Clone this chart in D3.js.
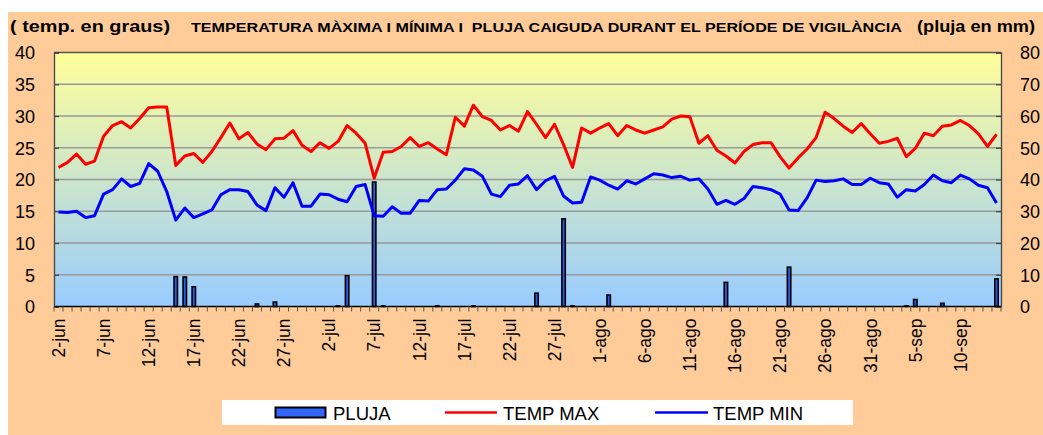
<!DOCTYPE html>
<html><head><meta charset="utf-8">
<script src="https://cdn.jsdelivr.net/npm/d3@7"></script>
<style>
html,body{margin:0;padding:0;background:#fff;}
svg{display:block;font-family:"Liberation Sans",Arial,sans-serif;}
</style></head>
<body>
<svg id="chart" width="1043" height="435"></svg>
<script>
const categories = [
"2-jun","3-jun","4-jun","5-jun","6-jun","7-jun","8-jun","9-jun","10-jun","11-jun","12-jun","13-jun","14-jun","15-jun","16-jun","17-jun","18-jun","19-jun","20-jun","21-jun","22-jun","23-jun","24-jun","25-jun","26-jun","27-jun","28-jun","29-jun","30-jun",
"1-jul","2-jul","3-jul","4-jul","5-jul","6-jul","7-jul","8-jul","9-jul","10-jul","11-jul","12-jul","13-jul","14-jul","15-jul","16-jul","17-jul","18-jul","19-jul","20-jul","21-jul","22-jul","23-jul","24-jul","25-jul","26-jul","27-jul","28-jul","29-jul","30-jul","31-jul",
"1-ago","2-ago","3-ago","4-ago","5-ago","6-ago","7-ago","8-ago","9-ago","10-ago","11-ago","12-ago","13-ago","14-ago","15-ago","16-ago","17-ago","18-ago","19-ago","20-ago","21-ago","22-ago","23-ago","24-ago","25-ago","26-ago","27-ago","28-ago","29-ago","30-ago","31-ago",
"1-sep","2-sep","3-sep","4-sep","5-sep","6-sep","7-sep","8-sep","9-sep","10-sep","11-sep","12-sep","13-sep","14-sep"];

const tickLabels = ["2-jun","7-jun","12-jun","17-jun","22-jun","27-jun","2-jul","7-jul","12-jul","17-jul","22-jul","27-jul","1-ago","6-ago","11-ago","16-ago","21-ago","26-ago","31-ago","5-sep","10-sep"];

const tempMax = [
21.9,22.7,24.0,22.4,22.9,26.8,28.5,29.1,28.1,29.6,31.3,31.4,31.4,22.2,23.7,24.1,22.7,24.4,
26.6,28.9,26.4,27.4,25.6,24.7,26.4,26.5,27.7,25.4,24.4,25.8,24.9,26.0,28.5,27.3,25.7,
20.2,24.3,24.4,25.2,26.6,25.2,25.8,24.8,23.9,29.8,28.4,31.7,29.9,29.3,27.8,28.5,27.6,
30.7,28.7,26.6,28.7,25.5,21.9,28.1,27.3,28.1,28.8,26.9,28.5,27.8,27.3,27.8,28.3,29.5,
30.0,29.9,25.7,26.9,24.6,23.7,22.6,24.4,25.5,25.8,25.8,23.6,21.8,23.4,24.8,26.6,30.6,29.6,
28.4,27.4,28.8,27.2,25.7,26.0,26.5,23.6,24.9,27.3,26.9,28.4,28.6,29.3,28.5,27.2,25.2,27.1];

const tempMin = [
14.9,14.8,15.0,14.0,14.3,17.7,18.4,20.1,18.9,19.4,22.5,21.3,18.1,13.6,15.5,14.0,14.6,15.2,
17.6,18.4,18.4,18.1,16.0,15.1,18.7,17.2,19.5,15.8,15.8,17.7,17.6,16.9,16.5,18.9,19.2,
14.3,14.2,15.7,14.7,14.7,16.7,16.6,18.4,18.5,19.9,21.7,21.5,20.5,17.7,17.3,19.1,19.3,
20.6,18.4,19.8,20.5,17.4,16.3,16.4,20.4,19.9,19.1,18.5,19.8,19.3,20.1,20.9,20.7,20.3,
20.5,19.9,20.1,18.5,16.1,16.7,16.1,17.0,18.9,18.7,18.4,17.7,15.2,15.1,17.1,19.9,19.7,19.8,
20.1,19.2,19.2,20.2,19.5,19.3,17.2,18.4,18.2,19.2,20.7,19.8,19.5,20.7,20.1,19.1,18.7,16.3];

const pluja = [
0,0,0,0,0,0,0,0,0,0,0,0,0,9.4,9.3,6.2,0,0,
0,0,0,0,0.8,0,1.4,0,0,0,0,0,0,0.2,9.7,0,0,
39.2,0.2,0,0,0,0,0,0.2,0,0,0,0.2,0,0,0,0,0,
0,4.2,0,0,27.6,0.2,0,0,0,3.6,0,0,0,0,0,0,0,
0,0,0,0,0,7.6,0,0,0,0,0,0,12.4,0,0,0,0,0,
0,0,0,0,0,0,0,0.2,2.2,0,0,1.0,0,0,0,0,0,8.7];

const leftTicks = [0,5,10,15,20,25,30,35,40];
const rightTicks = [0,10,20,30,40,50,60,70,80];

const svg = d3.select("#chart");
const L = 54, R = 1001, T = 52.5, B = 306.5;

// background
svg.append("rect").attr("x",8).attr("y",12).attr("width",1035).attr("height",423).attr("fill","#FFCC99");

const defs = svg.append("defs");
const grad = defs.append("linearGradient").attr("id","bg").attr("x1",0).attr("y1",0).attr("x2",0).attr("y2",1);
grad.append("stop").attr("offset","0%").attr("stop-color","#FFFF99");
grad.append("stop").attr("offset","100%").attr("stop-color","#99CCFF");
svg.append("rect").attr("x",L).attr("y",T).attr("width",R-L).attr("height",B-T).attr("fill","url(#bg)");

const x = d3.scaleBand().domain(categories).range([L,R]).paddingInner(0).paddingOuter(0);
const xb = d3.scaleBand().domain(categories).range([L,R]).paddingInner(0.62).paddingOuter(0.31);
const yL = d3.scaleLinear().domain([0,40]).range([B,T]);
const yR = d3.scaleLinear().domain([0,80]).range([B,T]);

// grid
svg.append("g").selectAll("line").data(leftTicks.filter(v=>v>0 && v<40)).join("line")
  .attr("x1",L).attr("x2",R).attr("y1",d=>yL(d)).attr("y2",d=>yL(d))
  .attr("stroke","#999").attr("stroke-width",1.3);

// bars
svg.append("g").selectAll("rect").data(categories.map((c,i)=>({c,v:pluja[i]})).filter(d=>d.v>0)).join("rect")
  .attr("x",d=>xb(d.c)).attr("width",xb.bandwidth())
  .attr("y",d=>yR(d.v)).attr("height",d=>B-yR(d.v))
  .attr("fill","#2D5BE3").attr("stroke","#000").attr("stroke-width",1.6);

// lines
const line = arr => d3.line().x((d,i)=>x(categories[i])+x.bandwidth()/2).y(d=>yL(d))(arr);
svg.append("path").attr("d",line(tempMax)).attr("fill","none").attr("stroke","#FF0000").attr("stroke-width",3).attr("stroke-linejoin","round");
svg.append("path").attr("d",line(tempMin)).attr("fill","none").attr("stroke","#0000FF").attr("stroke-width",3).attr("stroke-linejoin","round");

// frame
svg.append("line").attr("x1",L).attr("x2",R).attr("y1",T).attr("y2",T).attr("stroke","#555").attr("stroke-width",1.3);

// axes
const axL = svg.append("g").attr("transform",`translate(${L},0)`)
  .call(d3.axisLeft(yL).tickValues(leftTicks).tickSize(-5).tickPadding(19));
const axR = svg.append("g").attr("transform",`translate(${R},0)`)
  .call(d3.axisRight(yR).tickValues(rightTicks).tickSize(-5).tickPadding(19));
[axL,axR].forEach(a=>{
  a.select(".domain").attr("stroke","#444").attr("stroke-width",1.3);
  a.selectAll(".tick line").attr("stroke","#444").attr("stroke-width",1.3);
  a.selectAll("text").attr("font-size",18).attr("fill","#000").attr("font-family","Liberation Sans, Arial, sans-serif").attr("dy","0.36em");
});

// x axis
const gx = svg.append("g").attr("transform",`translate(0,${B})`);
gx.append("line").attr("x1",L).attr("x2",R).attr("stroke","#000").attr("stroke-width",1.5);
gx.selectAll("line.t").data(categories.concat([null])).join("line").attr("class","t")
  .attr("x1",(d,i)=>L+i*x.bandwidth()).attr("x2",(d,i)=>L+i*x.bandwidth())
  .attr("y1",0).attr("y2",5).attr("stroke","#555").attr("stroke-width",1);
const axB = gx.call(d3.axisBottom(x).tickValues(tickLabels).tickSize(0).tickPadding(0));
axB.select(".domain").remove();
axB.selectAll(".tick text")
  .attr("font-size",17.5).attr("fill","#000").attr("font-family","Liberation Sans, Arial, sans-serif")
  .attr("text-anchor","end").attr("transform","translate(0,12) rotate(-90)")
  .attr("x",0).attr("y",0).attr("dy","0.36em");

// titles
const tf = "Liberation Sans Narrow, Liberation Sans, Arial, sans-serif";
svg.append("text").attr("x",10).attr("y",32).attr("font-weight","bold").attr("font-size",16.5).attr("font-family",tf)
  .attr("textLength",160).attr("lengthAdjust","spacingAndGlyphs").text("( temp. en graus)");
svg.append("text").attr("x",191).attr("y",32).attr("font-weight","bold").attr("font-size",13.5).attr("font-family",tf)
  .style("white-space","pre")
  .attr("textLength",711).attr("lengthAdjust","spacingAndGlyphs").text("TEMPERATURA MÀXIMA I MÍNIMA I  PLUJA CAIGUDA DURANT EL PERÍODE DE VIGILÀNCIA");
svg.append("text").attr("x",917).attr("y",32).attr("font-weight","bold").attr("font-size",16.5).attr("font-family",tf)
  .attr("textLength",118).attr("lengthAdjust","spacingAndGlyphs").text("(pluja en mm)");

// legend
const lg = svg.append("g");
lg.append("rect").attr("x",222).attr("y",400).attr("width",631).attr("height",25).attr("fill","#fff");
lg.append("rect").attr("x",275.5).attr("y",407.5).attr("width",50).attr("height",10).attr("fill","#3366FF").attr("stroke","#000").attr("stroke-width",2);
lg.append("text").attr("x",333).attr("y",419.5).attr("font-size",18.5).text("PLUJA");
lg.append("line").attr("x1",445).attr("x2",497).attr("y1",412.5).attr("y2",412.5).attr("stroke","#FF0000").attr("stroke-width",2.5);
lg.append("text").attr("x",503).attr("y",419.5).attr("font-size",18.5).text("TEMP MAX");
lg.append("line").attr("x1",655).attr("x2",708).attr("y1",412.5).attr("y2",412.5).attr("stroke","#0000FF").attr("stroke-width",2.5);
lg.append("text").attr("x",713).attr("y",419.5).attr("font-size",18.5).text("TEMP MIN");
</script>
</body></html>
